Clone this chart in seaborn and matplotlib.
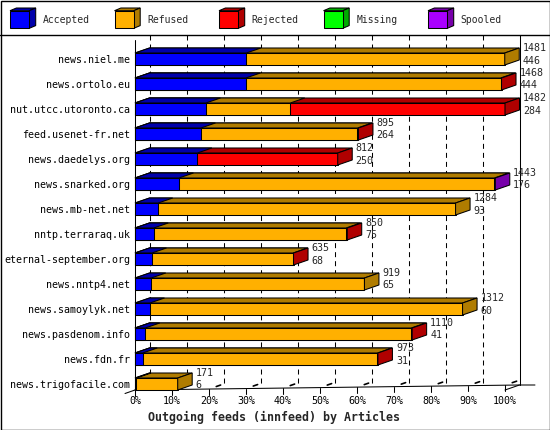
import numpy as np
import pandas as pd
import seaborn as sns
import matplotlib
matplotlib.use("Agg")
import matplotlib.pyplot as plt
from matplotlib.patches import Polygon, Rectangle
from matplotlib.transforms import ScaledTranslation

# ---------------- data ----------------
hosts = ["news.niel.me", "news.ortolo.eu", "nut.utcc.utoronto.ca", "feed.usenet-fr.net",
         "news.daedelys.org", "news.snarked.org", "news.mb-net.net", "nntp.terraraq.uk",
         "eternal-september.org", "news.nntp4.net", "news.samoylyk.net",
         "news.pasdenom.info", "news.fdn.fr", "news.trigofacile.com"]
accepted = [446, 444, 284, 264, 250, 176, 93, 75, 68, 65, 60, 41, 31, 6]
refused = [1035, 1020, 338, 627, 0, 1263, 1191, 770, 565, 854, 1252, 1065, 940, 165]
rejected = [0, 4, 860, 4, 562, 0, 0, 5, 2, 0, 0, 4, 2, 0]
missing = [0, 0, 0, 0, 0, 0, 0, 0, 0, 0, 0, 0, 0, 0]
spooled = [0, 0, 0, 0, 0, 4, 0, 0, 0, 0, 0, 0, 0, 0]

categories = ["Accepted", "Refused", "Rejected", "Missing", "Spooled"]
front_colors = ["#0000FF", "#FFB000", "#FF0000", "#00FF00", "#AA00FF"]
dark_colors = ["#0000AA", "#B07C00", "#B00000", "#00AA00", "#7700AA"]
tick_values = list(range(0, 101, 10))
tick_labels = [f"{v}%" for v in tick_values]
xlabel = "Outgoing feeds (innfeed) by Articles"

# ---------------- style ----------------
sns.set_theme(style="white")
plt.rcParams["font.family"] = ["DejaVu Sans Mono", "DejaVu Sans"]
plt.rcParams["lines.scale_dashes"] = False
FS = 7.2
LW = 0.75

W, H = 550, 430
fig = plt.figure(figsize=(W / 100, H / 100), dpi=100, facecolor="white")

# overlay axes in pixel coordinates for frame/legend
bg = fig.add_axes([0, 0, 1, 1], zorder=0)
bg.set_xlim(0, W)
bg.set_ylim(H, 0)
bg.axis("off")

# main plot axes: front plane from x=135..505, y=40..390 px
ax = fig.add_axes([135 / W, (H - 390) / H, 370 / W, 350 / H], zorder=1)
ax.patch.set_visible(False)

segments = np.array([accepted, refused, rejected, missing, spooled], dtype=float)
totals = segments.sum(axis=0)
scale = 100.0 / totals.max()
cum = np.cumsum(segments, axis=0) * scale

n = len(hosts)
YTOP, YBOT = -0.76, n - 1 + 0.24
DX_PX, DY_PX = 14.5, 5.0
ddx = DX_PX / 370 * 100
ddy = DY_PX / 25.0
BW = 0.48

# draw stacked bars back-to-front via cumulative layers
for k in range(len(categories) - 1, -1, -1):
    n0 = len(ax.patches)
    sns.barplot(x=cum[k], y=hosts, orient="y", color=front_colors[k], saturation=1,
                width=BW, edgecolor="black", linewidth=LW, errorbar=None, ax=ax)
    new = list(ax.patches[n0:])
    for i, p in enumerate(new):
        if segments[k, i] == 0:
            p.set_visible(False)
            continue
        p.set_clip_on(False)
        x1 = p.get_x() + p.get_width()
        yt = p.get_y()
        top = Polygon([(0, yt), (x1, yt), (x1 + ddx, yt - ddy), (ddx, yt - ddy)],
                      closed=True, facecolor=dark_colors[k], edgecolor="black",
                      linewidth=LW, clip_on=False, zorder=p.get_zorder())
        ax.add_patch(top)

# side faces at bar ends
for i in range(n):
    nz = [k for k in range(len(categories)) if segments[k, i] > 0]
    last = nz[-1]
    x1 = cum[-1, i]
    yt, yb = i - BW / 2, i + BW / 2
    side = Polygon([(x1, yb), (x1, yt), (x1 + ddx, yt - ddy), (x1 + ddx, yb - ddy)],
                   closed=True, facecolor=dark_colors[last], edgecolor="black",
                   linewidth=LW, clip_on=False, zorder=2)
    ax.add_patch(side)
    ax.annotate(f"{int(totals[i])}", xy=(x1, i), xytext=(18, 11), textcoords="offset pixels",
                ha="left", va="center", fontsize=FS, annotation_clip=False)
    ax.annotate(f"{int(segments[0, i])}", xy=(x1, i), xytext=(18, -1.5),
                textcoords="offset pixels", ha="left", va="center", fontsize=FS,
                annotation_clip=False)

# back plane gridlines
back = ax.transData + ScaledTranslation(DX_PX / 100, DY_PX / 100, fig.dpi_scale_trans)
for v in tick_values:
    if v == 100:
        ax.plot([v, v], [YTOP, YBOT], transform=back, color="black", lw=LW,
                zorder=0.5, clip_on=False)
    else:
        ax.plot([v, v], [YTOP, YBOT], transform=back, color="black", lw=LW,
                dashes=(3.6, 2.9), zorder=0.5, clip_on=False)

# front left axis and floor
ax.plot([0, 0], [YTOP, YBOT], color="black", lw=LW, zorder=0.6, clip_on=False)
ax.plot([0, 100 + ddx, 108.1], [YBOT, YBOT - ddy, YBOT - ddy], color="black", lw=LW,
        zorder=0.6, clip_on=False)
ax.plot([100, 100 + ddx], [YBOT, YBOT - ddy], color="black", lw=LW, zorder=0.6,
        clip_on=False)
ax.plot([-2.7, 0], [YBOT + 0.14, YBOT], color="black", lw=LW, zorder=0.6, clip_on=False)
for v in tick_values:
    yf = YBOT - ddy * (v / (100 + ddx))
    ax.plot([v, v], [yf, yf + 0.22], color="black", lw=LW, zorder=0.6, clip_on=False)
    ax.plot([v + ddx * 0.5, v + ddx * 0.8], [yf - ddy * 0.5, yf - ddy * 0.8],
            color="black", lw=1.2, zorder=0.6, clip_on=False)

ax.set_xlim(0, 100)
ax.set_ylim(YBOT, YTOP)
ax.set_xticks(tick_values, tick_labels)
ax.tick_params(axis="x", length=0, pad=4.2, labelsize=FS, colors="black")
ax.tick_params(axis="y", length=0, pad=3.6, labelsize=FS, colors="black")
ax.set_xlabel("")
ax.set_ylabel("")
for s in ax.spines.values():
    s.set_visible(False)
ax.grid(False)

fig.text(148 / W, 1 - 417 / H, xlabel, ha="left", va="center", fontsize=8.4,
         fontweight="bold")

# frame and legend
bg.add_patch(Rectangle((0.5, 0.5), W - 1, H - 1, fill=False, edgecolor="black", lw=1))
bg.plot([0, W], [35, 35], color="black", lw=1)
for k, (lab, fc, dc) in enumerate(zip(categories, front_colors, dark_colors)):
    x0 = 10 + 104.5 * k
    bw, bh, dx, dy = 19.3, 17.6, 6.4, 2.7
    yt = 10.7
    bg.add_patch(Polygon([(x0, yt), (x0 + bw, yt), (x0 + bw + dx, yt - dy), (x0 + dx, yt - dy)],
                         closed=True, facecolor=dc, edgecolor="black", lw=LW))
    bg.add_patch(Polygon([(x0 + bw, yt), (x0 + bw + dx, yt - dy), (x0 + bw + dx, yt + bh - dy),
                          (x0 + bw, yt + bh)], closed=True, facecolor=dc, edgecolor="black", lw=LW))
    bg.add_patch(Rectangle((x0, yt), bw, bh, facecolor=fc, edgecolor="black", lw=LW))
    bg.text(x0 + 32.7, 20, lab, ha="left", va="center", fontsize=7.0)

fig.savefig("out.png", dpi=100, facecolor="white")
